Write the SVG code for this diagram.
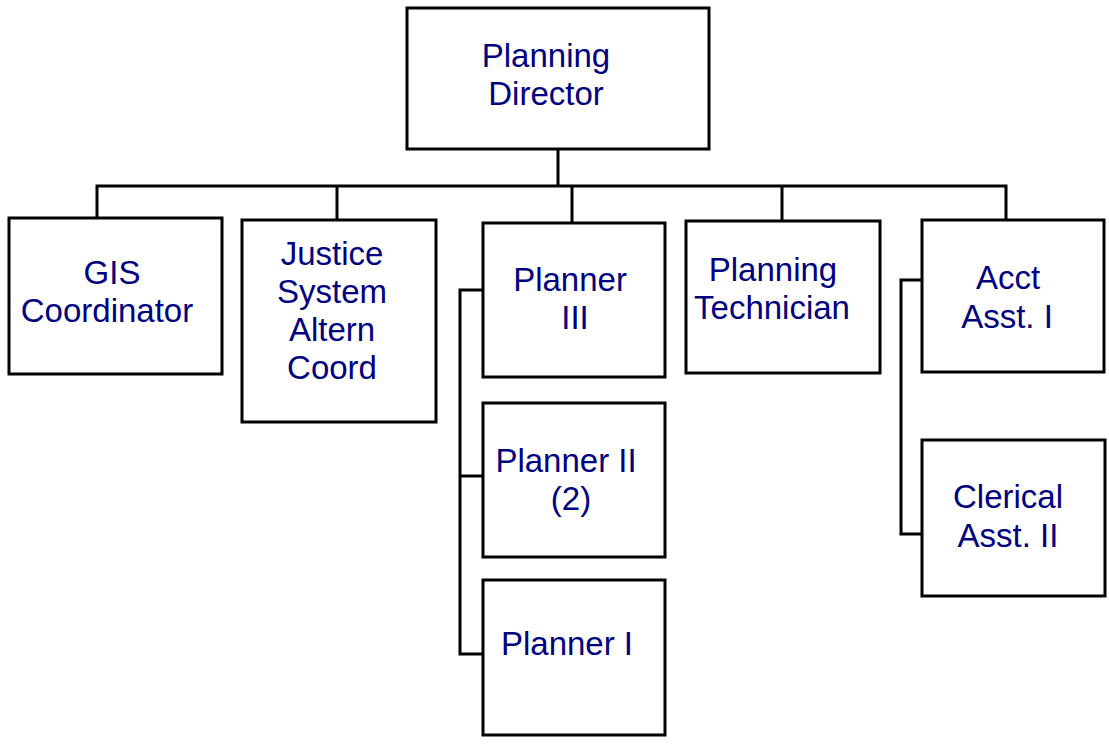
<svg xmlns="http://www.w3.org/2000/svg" width="1109" height="744" viewBox="0 0 1109 744">
  <style>
    .box { fill: #ffffff; stroke: #000000; stroke-width: 3; }
    .link { fill: none; stroke: #000000; stroke-width: 3; stroke-linejoin: miter; }
    .label { font-family: "Liberation Sans", Arial, sans-serif; font-size: 33px; fill: #000080; text-anchor: middle; }
  </style>
  <rect width="1109" height="744" fill="#ffffff"/>

  <!-- reporting lines -->
  <g id="connectors">
    <path class="link" d="M558,149 V186"/>
    <path class="link" d="M97,218 V186 H1006 V220"/>
    <path class="link" d="M337,186 V220"/>
    <path class="link" d="M572,186 V223"/>
    <path class="link" d="M782,186 V220"/>
    <path class="link" d="M483,290 H460 V654 H483"/>
    <path class="link" d="M460,476 H483"/>
    <path class="link" d="M922,280 H901 V534 H922"/>
  </g>

  <g id="planning-director">
    <rect class="box" x="407" y="8" width="302" height="141"/>
    <text class="label" x="546" y="67">Planning</text>
    <text class="label" x="546" y="105">Director</text>
  </g>

  <g id="gis-coordinator">
    <rect class="box" x="9" y="218" width="213" height="156"/>
    <text class="label" x="112" y="284">GIS</text>
    <text class="label" x="107" y="322">Coordinator</text>
  </g>

  <g id="justice-system">
    <rect class="box" x="242" y="220" width="194" height="202"/>
    <text class="label" x="332" y="265">Justice</text>
    <text class="label" x="332" y="303">System</text>
    <text class="label" x="332" y="341">Altern</text>
    <text class="label" x="332" y="379">Coord</text>
  </g>

  <g id="planner-3">
    <rect class="box" x="483" y="223" width="182" height="154"/>
    <text class="label" x="570" y="291">Planner</text>
    <text class="label" x="575" y="329">III</text>
  </g>

  <g id="planner-2">
    <rect class="box" x="483" y="403" width="182" height="154"/>
    <text class="label" x="566" y="472">Planner II</text>
    <text class="label" x="571" y="510">(2)</text>
  </g>

  <g id="planner-1">
    <rect class="box" x="483" y="580" width="182" height="155"/>
    <text class="label" x="567" y="655">Planner I</text>
  </g>

  <g id="planning-technician">
    <rect class="box" x="686" y="221" width="194" height="152"/>
    <text class="label" x="773" y="281">Planning</text>
    <text class="label" x="772" y="319">Technician</text>
  </g>

  <g id="acct-asst-1">
    <rect class="box" x="922" y="220" width="182" height="152"/>
    <text class="label" x="1008" y="289">Acct</text>
    <text class="label" x="1007" y="328">Asst. I</text>
  </g>

  <g id="clerical-asst-2">
    <rect class="box" x="922" y="440" width="183" height="156"/>
    <text class="label" x="1008" y="508">Clerical</text>
    <text class="label" x="1008" y="547">Asst. II</text>
  </g>
</svg>
